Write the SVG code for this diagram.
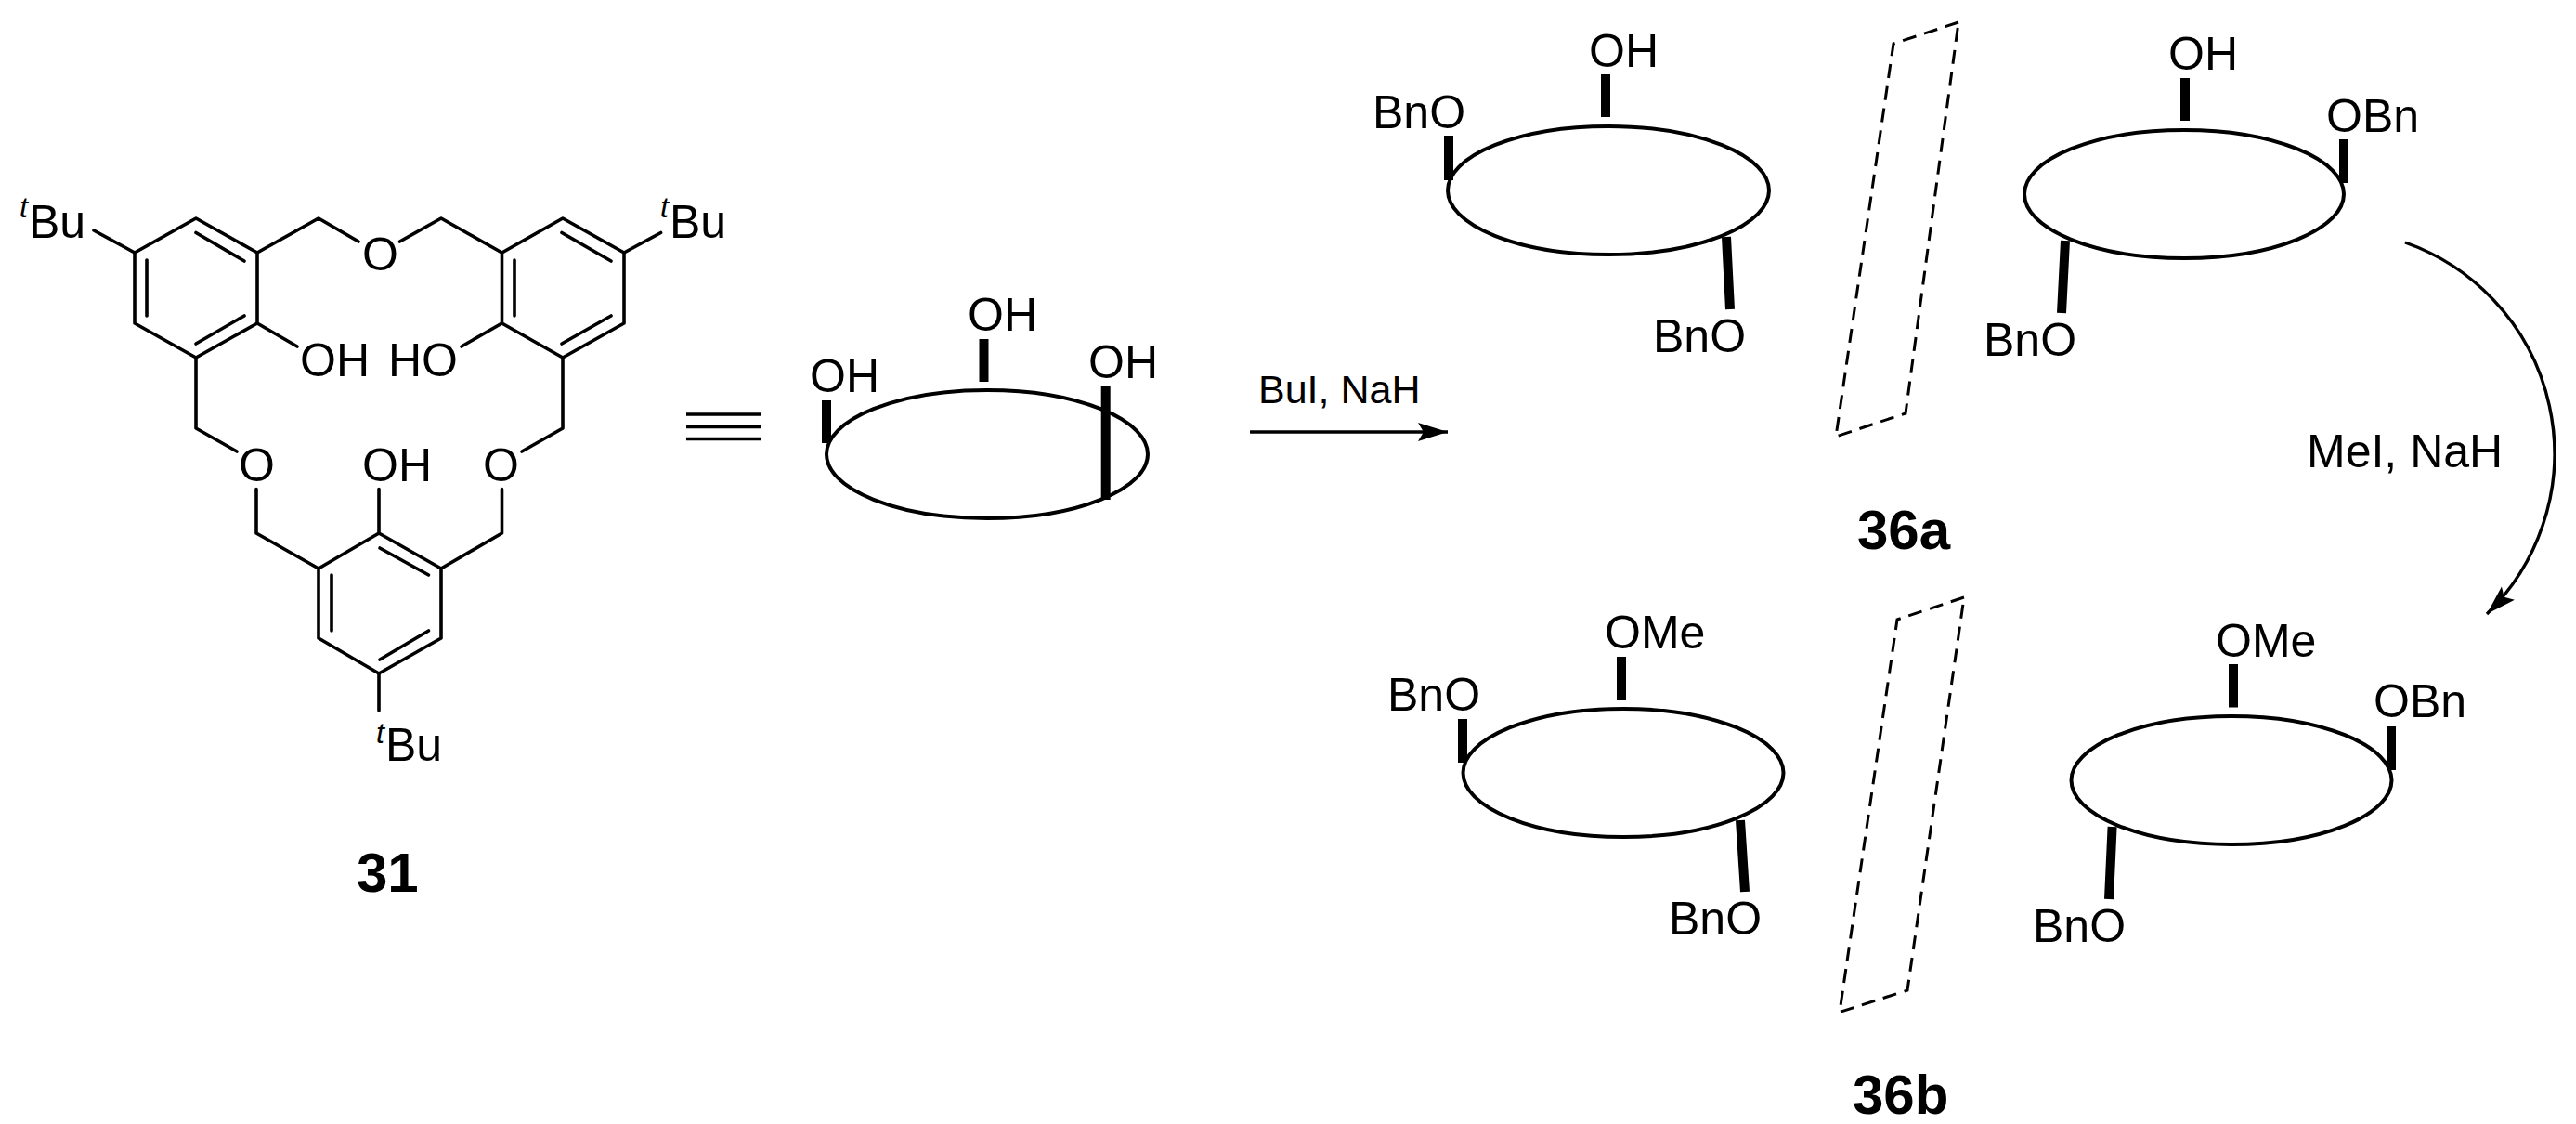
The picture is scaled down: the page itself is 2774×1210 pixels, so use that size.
<svg xmlns="http://www.w3.org/2000/svg" width="2774" height="1210" viewBox="0 0 2774 1210">
<style>
text{font-family:"Liberation Sans",Arial,sans-serif;font-size:50px;fill:#000}
.t{font-size:32px;font-style:italic}
.r{font-size:43px}
.b{font-size:60px;font-weight:bold}
.bond{fill:none;stroke:#000;stroke-width:3.6;stroke-linecap:round;stroke-linejoin:round}
.ring{fill:none;stroke:#000;stroke-width:4}
.st{fill:none;stroke:#000;stroke-width:10}
.plane{fill:none;stroke:#000;stroke-width:3;stroke-dasharray:15 9}
.conn{fill:none;stroke:#000;stroke-width:3.4}
</style>
<defs>
<marker id="head" markerUnits="userSpaceOnUse" markerWidth="36" markerHeight="22" refX="32" refY="10" orient="auto"><path d="M0 0L32 10L0 20L6 10Z" fill="#000"/></marker>
</defs>
<rect width="2774" height="1210" fill="#fff"/>
<g id="compound-31">
<path class="bond" d="M211 235L277 272L277 348L211 385L145 348L145 272ZM158 280V340M211 250.500L263 281M211 370L263 340"/>
<path class="bond" d="M606 235L672 272L672 348L606 385L540.500 348L540.500 272ZM554 280V340M605 250.500L658 281M605 370L658 340"/>
<path class="bond" d="M408 574L475 612L475 687L408 725L343 687L343 612ZM409 590L461.500 619M357 619V679M409 710L461.500 679"/>
<path class="bond" d="M145 272L101 248M672 272L711.600 250.500M408 725V765M277 348L320 373M540.500 348L497 373M408 574V526.500M277 272L343 235L386 260M540.500 272L475 235L430.500 260M211 385V461L255 486M276 526.500V574L343 612M606 385V461L562 486M540.500 526.500V574L475 612"/>
<text class="t" x="21" y="234">t</text><text x="31" y="256">Bu</text>
<text class="t" x="711" y="234">t</text><text x="721" y="256">Bu</text>
<text class="t" x="405" y="800">t</text><text x="415" y="819">Bu</text>
<text x="323" y="405">OH</text><text x="418" y="405">HO</text><text x="390" y="518">OH</text>
<text x="390" y="291">O</text><text x="257" y="518">O</text><text x="520" y="518">O</text>
<text class="b" x="384" y="960">31</text>
</g>
<g id="equivalent">
<path class="conn" d="M739 446H819M739 459.500H819M739 472.500H819"/>
</g>
<g id="cartoon-31">
<ellipse class="ring" cx="1063" cy="489" rx="173" ry="69"/>
<path class="st" d="M890 431V477M1059.500 365V411M1190.700 415V538"/>
<text x="872" y="422">OH</text><text x="1042" y="356">OH</text><text x="1172" y="407">OH</text>
</g>
<g id="compound-36a-left">
<ellipse class="ring" cx="1732" cy="205" rx="173" ry="69"/>
<path class="st" d="M1560 146V194M1729 80V126M1859 255L1863 333"/>
<text x="1711" y="72">OH</text><text x="1478" y="137.500">BnO</text><text x="1780" y="379">BnO</text>
</g>
<g id="plane-36a"><path class="plane" d="M2109 24L2039 47L1977 470L2052 445Z"/></g>
<g id="compound-36a-right">
<ellipse class="ring" cx="2352" cy="209" rx="172" ry="69"/>
<path class="st" d="M2353 84V130M2524 150V197M2224 259L2220 337"/>
<text x="2335" y="75">OH</text><text x="2505" y="141.500">OBn</text><text x="2136" y="382.600">BnO</text>
</g>
<text id="label-36a" class="b" x="2000" y="591">36a</text>
<g id="compound-36b-left">
<ellipse class="ring" cx="1748" cy="832" rx="172.500" ry="69"/>
<path class="st" d="M1575 774V821M1746 707V754M1874 883L1879 960"/>
<text x="1728" y="698">OMe</text><text x="1494" y="765">BnO</text><text x="1797" y="1006">BnO</text>
</g>
<g id="plane-36b"><path class="plane" d="M2115 643L2043 667L1981 1089.500L2054 1066Z"/></g>
<g id="compound-36b-right">
<ellipse class="ring" cx="2403" cy="840" rx="172.500" ry="69"/>
<path class="st" d="M2405 715V761.500M2575 782V829M2274.600 890L2271 968"/>
<text x="2386" y="707">OMe</text><text x="2556" y="772">OBn</text><text x="2189" y="1014">BnO</text>
</g>
<text id="label-36b" class="b" x="1995" y="1199">36b</text>
<g id="connectors">
<path class="conn" marker-end="url(#head)" d="M1346 465H1559"/>
<path class="conn" marker-end="url(#head)" d="M2590 261A241 241 0 0 1 2678 661"/>
</g>
<text class="r" x="1355" y="434">BuI, NaH</text>
<text x="2484" y="503">MeI, NaH</text>
</svg>
